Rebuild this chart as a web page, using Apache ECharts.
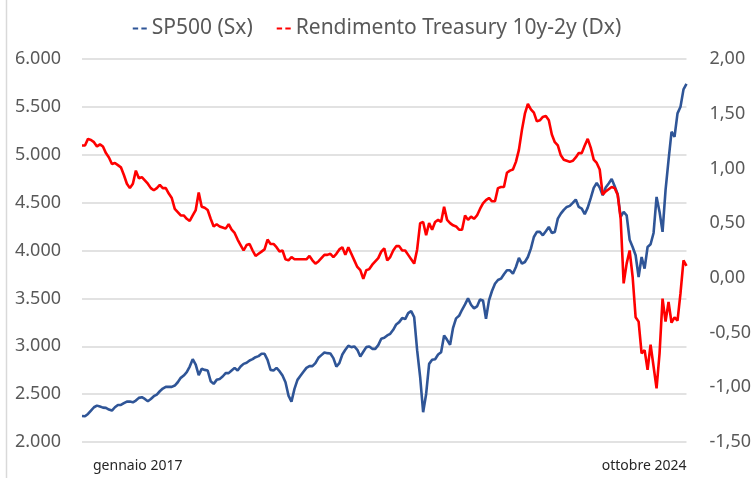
<!DOCTYPE html>
<html>
<head>
<meta charset="utf-8">
<script src="https://cdn.jsdelivr.net/npm/echarts@6/dist/echarts.min.js"></script>
<style>
  html, body { margin: 0; padding: 0; background: #fff; }
  #chart { width: 754px; height: 478px; }
</style>
</head>
<body>
<div id="chart"></div>
<script>
  // etichette asse x (solo prima e ultima)
  const xLabels = ['gennaio 2017', 'ottobre 2024']

  // SP500 (asse sinistro)
  const sp500 = [
    2272, 2269, 2293, 2328, 2363, 2380, 2370, 2359, 2356, 2339, 2328, 2363, 2387, 2387, 2405, 2422, 2422, 2415, 2433, 2461,
    2468, 2450, 2426, 2450, 2478, 2496, 2530, 2558, 2576, 2576, 2576, 2590, 2624, 2670,
    2694, 2729, 2788, 2865, 2809, 2698, 2764, 2753, 2747, 2635, 2607, 2649, 2659, 2684, 2719, 2719, 2747, 2774, 2747, 2788,
    2816, 2827, 2851, 2865, 2886, 2897, 2921, 2921, 2858, 2753, 2747, 2774, 2740,
    2694, 2624, 2485, 2422, 2555, 2649, 2691, 2733, 2774, 2792, 2792, 2823, 2879, 2907, 2935, 2928, 2924, 2876, 2788, 2823,
    2914, 2963, 3005, 2991, 2998, 2963, 2893, 2942, 2991, 2998, 2973, 2973, 3012, 3078,
    3088, 3113, 3130, 3172, 3228, 3252, 3294, 3284, 3346, 3367, 3305, 2956, 2677, 2311, 2502, 2816, 2858, 2865, 2914, 2938,
    3113, 3067, 3015, 3193, 3291, 3318, 3381, 3437, 3500, 3434, 3395, 3416, 3489,
    3479, 3287, 3479, 3577, 3653, 3692, 3706, 3751, 3793, 3793, 3758, 3828, 3922, 3863, 3880, 3932, 4019, 4141, 4194, 4194,
    4159, 4201, 4246, 4183, 4194, 4333, 4385, 4424, 4455, 4466, 4497, 4532, 4455,
    4438, 4379, 4448, 4546, 4654, 4706, 4657, 4577, 4657, 4699, 4748, 4671, 4588, 4351, 4403, 4368, 4113, 4037, 3950, 3723,
    3932, 3810, 4037, 4065, 4183, 4560, 4403, 4194, 4630, 4943, 5240, 5187, 5432, 5501, 5683, 5740
  ]

  // Rendimento Treasury 10y-2y (asse destro)
  const spread = [
    1.21, 1.21, 1.27, 1.26, 1.24, 1.20, 1.22, 1.20, 1.14, 1.10, 1.04, 1.05, 1.03, 1.01, 0.94, 0.86, 0.82, 0.86, 0.98, 0.91,
    0.92, 0.89, 0.86, 0.82, 0.80, 0.82, 0.85, 0.82, 0.82, 0.77, 0.73, 0.63, 0.60, 0.57,
    0.57, 0.54, 0.52, 0.57, 0.62, 0.78, 0.65, 0.64, 0.62, 0.54, 0.47, 0.49, 0.47, 0.46, 0.45, 0.49, 0.44, 0.41, 0.35, 0.30,
    0.25, 0.30, 0.31, 0.25, 0.20, 0.22, 0.24, 0.26, 0.35, 0.31, 0.31, 0.28, 0.24,
    0.25, 0.17, 0.16, 0.19, 0.17, 0.17, 0.17, 0.17, 0.17, 0.20, 0.16, 0.13, 0.15, 0.18, 0.21, 0.21, 0.22, 0.19, 0.22, 0.26,
    0.28, 0.21, 0.28, 0.22, 0.16, 0.10, 0.07, -0.01, 0.07, 0.08, 0.12, 0.15, 0.18, 0.24,
    0.27, 0.16, 0.19, 0.25, 0.29, 0.29, 0.25, 0.25, 0.21, 0.17, 0.13, 0.26, 0.50, 0.51, 0.39, 0.50, 0.44, 0.51, 0.53, 0.51,
    0.65, 0.53, 0.50, 0.48, 0.47, 0.44, 0.44, 0.57, 0.53, 0.56, 0.54, 0.57, 0.63,
    0.68, 0.71, 0.73, 0.70, 0.70, 0.82, 0.83, 0.83, 0.96, 0.98, 0.99, 1.06, 1.17, 1.35, 1.50, 1.59, 1.54, 1.51, 1.43, 1.44,
    1.47, 1.48, 1.44, 1.31, 1.24, 1.21, 1.12, 1.08, 1.07, 1.06, 1.07, 1.10, 1.14,
    1.14, 1.21, 1.27, 1.19, 1.08, 1.05, 0.99, 0.76, 0.79, 0.81, 0.83, 0.82, 0.76, 0.54, -0.05, 0.13, 0.25, 0.01, -0.36, -0.40,
    -0.69, -0.66, -0.84, -0.61, -0.81, -1.01, -0.69, -0.19, -0.40, -0.22, -0.41, -0.36, -0.39, -0.14, 0.16, 0.11
  ]

  const categories = sp500.map((v, i) => {
    if (i === 0) return xLabels[0]
    if (i === sp500.length - 1) return xLabels[1]
    return ''
  })

  const font = 'Noto Sans'
  const dashIcon = 'path://M0,0h5v2h-5z M8,0h5v2h-5z'

  var myChart = echarts.init(document.getElementById('chart'))
  var option = {
    animation: false,
    color: ['#2F5597', '#FF0000'],
    textStyle: { fontFamily: font },
    legend: {
      top: 13,
      left: 'center',
      itemWidth: 14,
      itemHeight: 3,
      itemGap: 24,
      textStyle: { fontSize: 21, color: '#595959', fontFamily: font },
      data: [
        { name: 'SP500 (Sx)', icon: dashIcon },
        { name: 'Rendimento Treasury 10y-2y (Dx)', icon: dashIcon }
      ]
    },
    grid: { left: 82, right: 66, top: 59, bottom: 36 },
    graphic: [{
      type: 'line',
      shape: { x1: 6.5, y1: 0, x2: 6.5, y2: 478 },
      style: { stroke: '#d9d9d9', lineWidth: 1.5 }
    }],
    xAxis: {
      type: 'category',
      boundaryGap: false,
      data: categories,
      axisLine: { show: false },
      axisTick: { show: false },
      axisLabel: {
        interval: 0,
        margin: 17,
        fontSize: 14,
        color: '#262626',
        alignMinLabel: 'left',
        alignMaxLabel: 'right',
        padding: [0, 0, 0, 11]
      }
    },
    yAxis: [{
      type: 'value',
      min: 2000,
      max: 6000,
      interval: 500,
      axisLine: { show: false },
      axisTick: { show: false },
      splitLine: { lineStyle: { color: '#d9d9d9', width: 1.5 } },
      axisLabel: {
        margin: 21,
        fontSize: 18,
        color: '#595959',
        formatter: v => (v / 1000).toFixed(3)
      }
    }, {
      type: 'value',
      min: -1.5,
      max: 2,
      interval: 0.5,
      axisLine: { show: false },
      axisTick: { show: false },
      splitLine: { show: false },
      axisLabel: {
        margin: 23,
        fontSize: 18,
        color: '#595959',
        formatter: v => v.toFixed(2).replace('.', ',')
      }
    }],
    series: [{
      name: 'SP500 (Sx)',
      type: 'line',
      yAxisIndex: 0,
      showSymbol: false,
      lineStyle: { width: 2.6, color: '#2F5597' },
      data: sp500
    }, {
      name: 'Rendimento Treasury 10y-2y (Dx)',
      type: 'line',
      yAxisIndex: 1,
      showSymbol: false,
      lineStyle: { width: 2.6, color: '#FF0000' },
      data: spread
    }]
  }
  myChart.setOption(option)
</script>
</body>
</html>
